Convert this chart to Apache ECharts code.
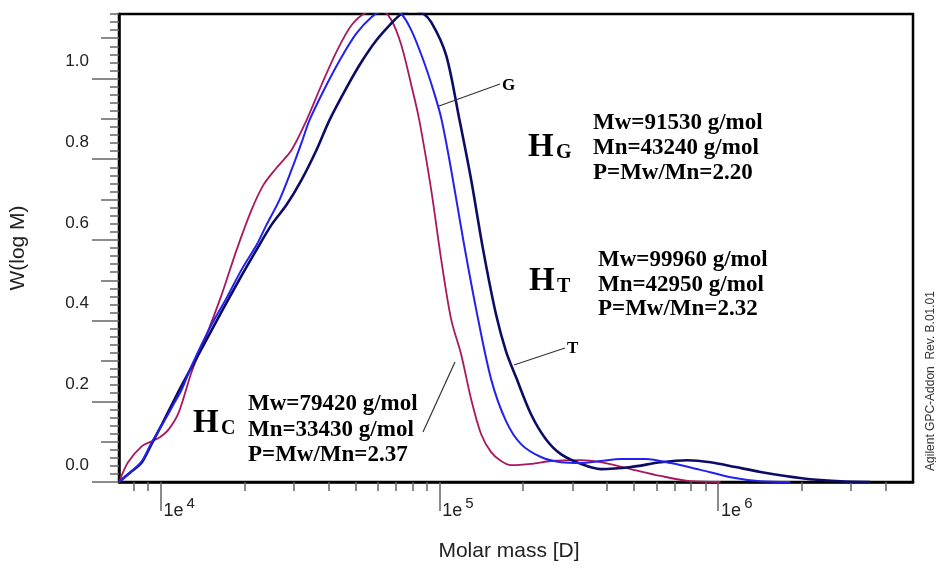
<!DOCTYPE html>
<html><head><meta charset="utf-8">
<script src="https://cdn.jsdelivr.net/npm/echarts@6/dist/echarts.min.js"></script>
<style>html,body{margin:0;padding:0;background:#fff}#c{width:936px;height:567px}</style>
</head><body><div id="c"></div>
<script>
// Sample HC (red)
const massC = [7100,7650,8580,9320,9950,10720,11640,12950,14660,16590,18770,21230,23440,26090,29530,33420,37800,42770,48410,54770,61970,67290,73070,79340,84760,93540,101600,110300,119800,130100,141200,153400,166500,180800,213300,251400,321900,379600,486000,622300,796700,1020000];
const wC    = [0,0.049,0.089,0.101,0.111,0.131,0.173,0.274,0.366,0.465,0.576,0.675,0.737,0.779,0.823,0.897,0.984,1.066,1.132,1.164,1.169,1.145,1.083,0.984,0.897,0.724,0.551,0.403,0.316,0.205,0.119,0.074,0.052,0.042,0.045,0.052,0.054,0.049,0.032,0.015,0.002,0];
// Sample HG (blue)
const massG = [7100,7900,8580,9320,10120,11260,11930,12950,15270,17290,19560,22130,24030,26750,29530,32060,34240,39390,44580,50440,57070,61970,67290,73070,79340,87600,95100,101600,110300,121800,135600,153400,173500,196400,231500,273000,321900,379600,447600,549900,675400,865000,1108000,1418000,1816000];
const wG    = [0,0.027,0.052,0.099,0.141,0.198,0.230,0.289,0.391,0.457,0.527,0.588,0.638,0.700,0.774,0.841,0.897,0.984,1.053,1.112,1.152,1.167,1.169,1.160,1.120,1.046,0.972,0.902,0.774,0.601,0.428,0.255,0.151,0.094,0.062,0.049,0.047,0.052,0.057,0.057,0.047,0.030,0.012,0.002,0];
// Sample HT (navy)
const massT = [7100,7900,8580,9320,10120,11930,14070,16590,19560,22130,25040,28330,32060,36270,40380,46450,52560,59480,67290,73070,79340,86170,93540,105800,117800,130100,143600,159800,173500,188400,213300,241200,273000,321900,379600,486000,622300,777200,939300,1154000,1418000,1743000,2141000,2741000,3510000];
const wT    = [0,0.027,0.049,0.096,0.143,0.240,0.331,0.423,0.512,0.576,0.638,0.687,0.749,0.823,0.897,0.977,1.041,1.095,1.137,1.160,1.169,1.164,1.140,1.058,0.902,0.749,0.576,0.415,0.324,0.260,0.168,0.106,0.069,0.045,0.032,0.037,0.049,0.054,0.049,0.037,0.025,0.015,0.007,0.002,0];

const yLabelTicks = [0, 0.2, 0.4, 0.6, 0.8, 1.0];
const yMidTicks = [0.1, 0.3, 0.5, 0.7, 0.9, 1.1];
const yMinorTicks = [0.02,0.04,0.06,0.08,0.12,0.14,0.16,0.18,0.22,0.24,0.26,0.28,0.32,0.34,0.36,0.38,0.42,0.44,0.46,0.48,0.52,0.54,0.56,0.58,0.62,0.64,0.66,0.68,0.72,0.74,0.76,0.78,0.82,0.84,0.86,0.88,0.92,0.94,0.96,0.98,1.02,1.04,1.06,1.08,1.12,1.14,1.16];
const xMajorTicks = [10000, 100000, 1000000];
const xMinorTicks = [8000,9000,20000,30000,40000,50000,60000,70000,80000,90000,200000,300000,400000,500000,600000,700000,800000,900000,2000000,3000000,4000000];

const zip = (xs, ys) => xs.map((x, i) => [x, ys[i]]);
const serif = '"Liberation Serif", "Times New Roman", serif';
const sans = '"Liberation Sans", Arial, sans-serif';
const tickColor = '#666';

const chart = echarts.init(document.getElementById('c'), null, {renderer: 'canvas'});

const xBase = {type: 'log', logBase: 10, min: 7100, max: 5000000, position: 'bottom', offset: 0, splitLine: {show: false}};
const yBase = {type: 'value', min: 0, max: 1.16, position: 'left', offset: 0, splitLine: {show: false}};

const blocks = [
  {hx: 528, hy: 147, s: 'G', tx: 593, ty: [123, 148, 173], lines: ['Mw=91530 g/mol', 'Mn=43240 g/mol', 'P=Mw/Mn=2.20']},
  {hx: 529, hy: 281, s: 'T', tx: 598, ty: [260, 285, 309], lines: ['Mw=99960 g/mol', 'Mn=42950 g/mol', 'P=Mw/Mn=2.32']},
  {hx: 193, hy: 423, s: 'C', tx: 248, ty: [404, 430, 455], lines: ['Mw=79420 g/mol', 'Mn=33430 g/mol', 'P=Mw/Mn=2.37']}
];
const graphics = [];
blocks.forEach(b => {
  graphics.push({type: 'text', x: b.hx, y: b.hy, style: {text: 'H', font: 'bold 33px ' + serif, fill: '#000', verticalAlign: 'middle'}});
  graphics.push({type: 'text', x: b.hx + 28, y: b.hy + 6, style: {text: b.s, font: 'bold 20px ' + serif, fill: '#000', verticalAlign: 'middle'}});
  b.lines.forEach((t, i) => graphics.push({type: 'text', x: b.tx, y: b.ty[i], style: {text: t, font: 'bold 23px ' + serif, fill: '#000', verticalAlign: 'middle'}}));
});
// leader lines and curve tags
graphics.push({type: 'line', shape: {x1: 439, y1: 106, x2: 500, y2: 84}, style: {stroke: '#333', lineWidth: 1.2}, z: 10});
graphics.push({type: 'text', x: 502, y: 86, style: {text: 'G', font: 'bold 17px ' + serif, fill: '#000', verticalAlign: 'middle'}});
graphics.push({type: 'line', shape: {x1: 514, y1: 365, x2: 565, y2: 348}, style: {stroke: '#333', lineWidth: 1.2}, z: 10});
graphics.push({type: 'text', x: 567, y: 349, style: {text: 'T', font: 'bold 17px ' + serif, fill: '#000', verticalAlign: 'middle'}});
graphics.push({type: 'line', shape: {x1: 423, y1: 432, x2: 455, y2: 362}, style: {stroke: '#333', lineWidth: 1.2}, z: 10});
// software stamp
graphics.push({type: 'text', x: 931, y: 381, rotation: Math.PI / 2, style: {text: 'Agilent GPC-Addon  Rev. B.01.01', font: '12px ' + sans, fill: '#333', align: 'center', verticalAlign: 'middle'}});

chart.setOption({
  animation: false,
  backgroundColor: '#fff',
  grid: {left: 117, right: 23, top: 14, bottom: 84, show: true, borderColor: '#000', borderWidth: 2.5, backgroundColor: 'transparent'},
  xAxis: [
    Object.assign({}, xBase, {
      name: 'Molar mass [D]', nameLocation: 'middle', nameGap: 59,
      nameTextStyle: {fontFamily: sans, fontSize: 21, color: '#222', padding: [0, 14, 0, 0]},
      axisLine: {show: true, lineStyle: {color: '#000', width: 2.5}},
      axisTick: {show: true, customValues: xMajorTicks, length: 29, lineStyle: {color: tickColor, width: 1.5}},
      axisLabel: {show: true, customValues: xMajorTicks, margin: 14, align: 'left', padding: [0, 0, 0, 3],
        formatter: v => '{b|1e}{s|' + Math.round(Math.log10(v)) + '}',
        rich: {b: {fontFamily: sans, fontSize: 18, color: '#222', verticalAlign: 'bottom', lineHeight: 24},
               s: {fontFamily: sans, fontSize: 15, color: '#222', verticalAlign: 'top', lineHeight: 24, padding: [0, 0, 0, 3]}}}
    }),
    Object.assign({}, xBase, {
      axisLine: {show: false},
      axisTick: {show: true, customValues: xMinorTicks, length: 9, lineStyle: {color: tickColor, width: 1.5}},
      axisLabel: {show: false}
    })
  ],
  yAxis: [
    Object.assign({}, yBase, {
      name: 'W(log M)', nameLocation: 'middle', nameGap: 90, nameRotate: 90,
      nameTextStyle: {fontFamily: sans, fontSize: 21, color: '#222'},
      axisLine: {show: true, lineStyle: {color: '#000', width: 2.5}},
      axisTick: {show: true, customValues: yLabelTicks, length: 27, lineStyle: {color: tickColor, width: 1.5}},
      axisLabel: {show: true, customValues: yLabelTicks, margin: 30, verticalAlign: 'bottom', lineHeight: 34,
        fontFamily: sans, fontSize: 17, color: '#222', formatter: v => v.toFixed(1)}
    }),
    Object.assign({}, yBase, {
      axisLine: {show: false},
      axisTick: {show: true, customValues: yMidTicks, length: 18, lineStyle: {color: tickColor, width: 1.5}},
      axisLabel: {show: false}
    }),
    Object.assign({}, yBase, {
      axisLine: {show: false},
      axisTick: {show: true, customValues: yMinorTicks, length: 9, lineStyle: {color: tickColor, width: 1.5}},
      axisLabel: {show: false}
    })
  ],
  series: [
    {name: 'HC', type: 'line', data: zip(massC, wC), showSymbol: false, smooth: 0.3, clip: true,
     lineStyle: {color: '#a8185e', width: 1.8}, z: 3},
    {name: 'HT', type: 'line', data: zip(massT, wT), showSymbol: false, smooth: 0.3, clip: true,
     lineStyle: {color: '#0c0c66', width: 2.6}, z: 4},
    {name: 'HG', type: 'line', data: zip(massG, wG), showSymbol: false, smooth: 0.3, clip: true,
     lineStyle: {color: '#2222ee', width: 2}, z: 5}
  ],
  graphic: graphics
});
</script></body></html>
